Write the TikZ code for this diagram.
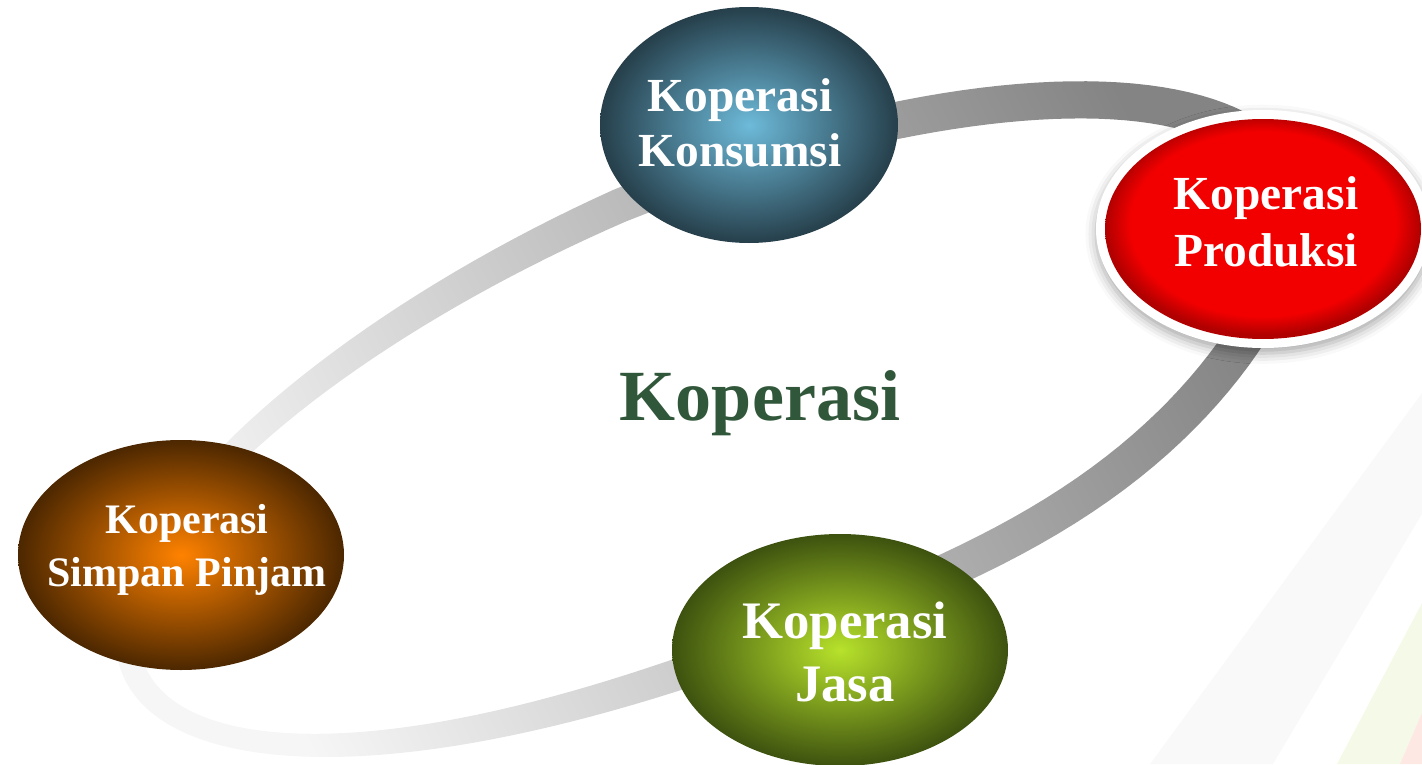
\documentclass[tikz,border=0pt]{standalone}
\usepackage{fontspec}
\setmainfont{Liberation Serif}
\usetikzlibrary{shapes.geometric,shadows.blur}

\definecolor{cincinTerang}{HTML}{F6F6F6}
\definecolor{cincinGelap}{HTML}{848484}
\definecolor{biruTerang}{HTML}{6DBAD9}
\definecolor{biruGelap}{HTML}{263F4B}
\definecolor{oranyeTerang}{HTML}{FF8200}
\definecolor{oranyeGelap}{HTML}{4C2700}
\definecolor{hijauTerang}{HTML}{B7E22B}
\definecolor{hijauGelap}{HTML}{3D520F}
\definecolor{merah}{HTML}{F20000}
\definecolor{merahTua}{HTML}{B00000}
\definecolor{hijauJudul}{HTML}{31573A}
\definecolor{latarAbu}{HTML}{F9F9F9}
\definecolor{latarHijau}{HTML}{F5F9E8}
\definecolor{latarMerah}{HTML}{FDE8E4}

\pgfdeclareradialshading{tepimerah}{\pgfpoint{0bp}{2bp}}{color(0bp)=(merah); color(21bp)=(merah); color(25bp)=(merahTua); color(50bp)=(merahTua)}

\begin{document}
\begin{tikzpicture}[
    lingkar/.style={ellipse, inner sep=0pt, shade},
    teks/.style={text=white, align=center, inner sep=0pt},
  ]
  \useasboundingbox (0,0) rectangle (14.22,7.64);
  \clip (0,0) rectangle (14.22,7.64);

  % latar
  \fill[latarAbu] (11.50,0) -- (14.22,3.71) -- (14.22,2.50) -- (12.73,0) -- cycle;
  \fill[latarHijau] (13.37,0) -- (14.22,1.61) -- (14.22,0.51) -- (14.00,0) -- cycle;
  \fill[latarMerah] (14.00,0) -- (14.22,0.51) -- (14.22,0) -- cycle;

  % cincin: tepi luar dan tepi dalam
  \begin{scope}[shift={(7.05,3.48)}, rotate=22.2]
    \shade[left color=cincinTerang, right color=cincinGelap, shading angle=117, even odd rule]
      plot[domain=0:360, samples=181, variable=\t]
        ({(6.25+0.17+0.05*cos(\t))*cos(\t)},
         {(2.27+0.17+0.05*cos(\t))*sin(\t)+0.1875*min(cos(\t),0)-0.22*exp(0-((\t-302)/30)*((\t-302)/30))}) -- cycle
      plot[domain=0:360, samples=181, variable=\t]
        ({(6.25-0.17-0.05*cos(\t))*cos(\t)},
         {(2.27-0.17-0.05*cos(\t))*sin(\t)+0.1875*min(cos(\t),0)-0.22*exp(0-((\t-302)/30)*((\t-302)/30))}) -- cycle;
  \end{scope}

  % elips
  \node[lingkar, minimum width=2.98cm, minimum height=2.36cm,
    inner color=biruTerang, outer color=biruGelap] (konsumsi) at (7.49,6.39) {};
  \node[ellipse, fill=white, minimum width=3.34cm, minimum height=2.38cm,
    blur shadow={shadow xshift=0pt, shadow yshift=-1.5pt, shadow blur radius=3pt, shadow opacity=35}]
    (produksi-tepi) at (12.63,5.35) {};
  \node[ellipse, inner sep=0pt, shading=tepimerah, minimum width=3.16cm, minimum height=2.20cm]
    (produksi) at (produksi-tepi.center) {};
  \node[lingkar, minimum width=3.26cm, minimum height=2.30cm,
    inner color=oranyeTerang, outer color=oranyeGelap] (simpan) at (1.81,2.09) {};
  \node[lingkar, minimum width=3.36cm, minimum height=2.32cm,
    inner color=hijauTerang, outer color=hijauGelap] (jasa) at (8.40,1.14) {};

  % teks
  \node[teks, font={\fontsize{13.5}{15.6}\selectfont\bfseries}] (konsumsi-t) at (7.40,6.41) {Koperasi\\Konsumsi};
  \node[teks, font={\fontsize{13.5}{16.2}\selectfont\bfseries}] (produksi-t) at (12.66,5.42) {Koperasi\\Produksi};
  \node[teks, font={\fontsize{11.95}{15.3}\selectfont\bfseries}] (simpan-t) at (1.87,2.14) {Koperasi\\Simpan Pinjam};
  \node[teks, font={\fontsize{15}{18.1}\selectfont\bfseries}] (jasa-t) at (8.45,1.12) {Koperasi\\Jasa};
  \node[text=hijauJudul, anchor=base, inner sep=0pt, font={\fontsize{20.5}{24}\selectfont\bfseries}] (pusat) at (7.60,3.44) {Koperasi};
\end{tikzpicture}
\end{document}
